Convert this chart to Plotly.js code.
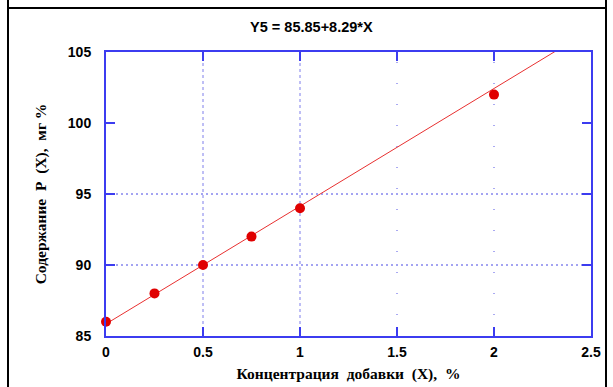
<!DOCTYPE html>
<html>
<head>
<meta charset="utf-8">
<script src="https://cdn.plot.ly/plotly-3.0.1.min.js"></script>
<style>
  html, body { margin: 0; padding: 0; background: #fff; }
  #frame { position: absolute; left: 0; top: 0; width: 613px; height: 387px; overflow: hidden; }
  #frame .edge { position: absolute; background: #000; }
  #chart { position: absolute; left: 0; top: 0; width: 613px; height: 387px; }
</style>
</head>
<body>
<div id="frame">
  <div id="chart"></div>
  <div class="edge" style="left:7px; top:0; width:2px; height:387px;"></div>
  <div class="edge" style="left:605px; top:0; width:2px; height:387px;"></div>
  <div class="edge" style="left:7px; top:7px; width:600px; height:2px;"></div>
</div>
<script>
// Measured points: additive concentration (%) vs content (mg %)
const concentration = [0, 0.25, 0.5, 0.75, 1, 2];
const content = [86, 88, 90, 92, 94, 102];

// Regression Y5 = 85.85 + 8.29*X
const intercept = 85.85;
const slope = 8.29;
const fitX = [0, 2.5];

const xTicks = [0, 0.5, 1, 1.5, 2, 2.5];
const yTicks = [85, 90, 95, 100, 105];
const denseGridX = [0.5, 1];
const sparseGridX = [1.5, 2];
const gridY = [90, 95];

const axisBlue = '#3c3cf0';
const gridBlue = '#2a2ae0';

const fitY = fitX.map(x => intercept + slope * x);

const traces = [
  {
    x: fitX, y: fitY, mode: 'lines', type: 'scatter',
    line: { color: '#e83030', width: 1 }, hoverinfo: 'skip', cliponaxis: true
  },
  {
    x: concentration, y: content, mode: 'markers', type: 'scatter',
    marker: { color: '#e00000', size: 10 }, cliponaxis: false
  }
];

const shapes = [];
denseGridX.forEach(v => shapes.push({
  type: 'line', xref: 'x', yref: 'y', x0: v, x1: v, y0: 85, y1: 105, layer: 'below',
  line: { color: gridBlue, width: 1, dash: 'dot' }, opacity: 0.6
}));
sparseGridX.forEach(v => shapes.push({
  type: 'line', xref: 'x', yref: 'y', x0: v, x1: v, y0: 85, y1: 105, layer: 'below',
  line: { color: gridBlue, width: 1, dash: '1px,20px' }, opacity: 0.8
}));
gridY.forEach(v => shapes.push({
  type: 'line', xref: 'x', yref: 'y', x0: 0, x1: 2.5, y0: v, y1: v, layer: 'below',
  line: { color: gridBlue, width: 1, dash: '2px,3px' }, opacity: 0.85
}));

const tickFont = { family: 'Liberation Sans, Arial, sans-serif', size: 14, color: '#000', weight: 'bold' };
const titleFont = { family: 'Liberation Serif, Times New Roman, serif', size: 15.5, color: '#000', weight: 'bold' };

const layout = {
  width: 613, height: 387,
  margin: { l: 106, r: 22, t: 52, b: 51 },
  paper_bgcolor: '#fff', plot_bgcolor: '#fff',
  showlegend: false,
  title: {
    text: 'Y5 = 85.85+8.29*X',
    x: 0.508, xref: 'container', xanchor: 'center',
    y: 0.93, yref: 'container', yanchor: 'middle',
    font: { family: 'Liberation Sans, Arial, sans-serif', size: 14.5, color: '#000', weight: 'bold' }
  },
  xaxis: {
    range: [0, 2.5], tickvals: xTicks, ticktext: xTicks.map(String),
    showgrid: false, zeroline: false,
    showline: true, linecolor: axisBlue, linewidth: 2, mirror: 'ticks',
    ticks: 'inside', ticklen: 9, tickcolor: axisBlue, tickwidth: 1.5,
    tickfont: tickFont, ticklabelstandoff: 2,
    title: { text: 'Концентрация  добавки  (Х),  %', font: titleFont, standoff: 9 }
  },
  yaxis: {
    range: [85, 105], tickvals: yTicks, ticktext: yTicks.map(String),
    showgrid: false, zeroline: false,
    showline: true, linecolor: axisBlue, linewidth: 2, mirror: 'ticks',
    ticks: 'inside', ticklen: 9, tickcolor: axisBlue, tickwidth: 1.5,
    tickfont: tickFont, ticklabelstandoff: 10,
    title: { text: 'Содержание  Р  (Х),  мг %', font: titleFont, standoff: 17 }
  },
  shapes: shapes
};

Plotly.newPlot('chart', traces, layout, { staticPlot: true, displayModeBar: false });
</script>
</body>
</html>
